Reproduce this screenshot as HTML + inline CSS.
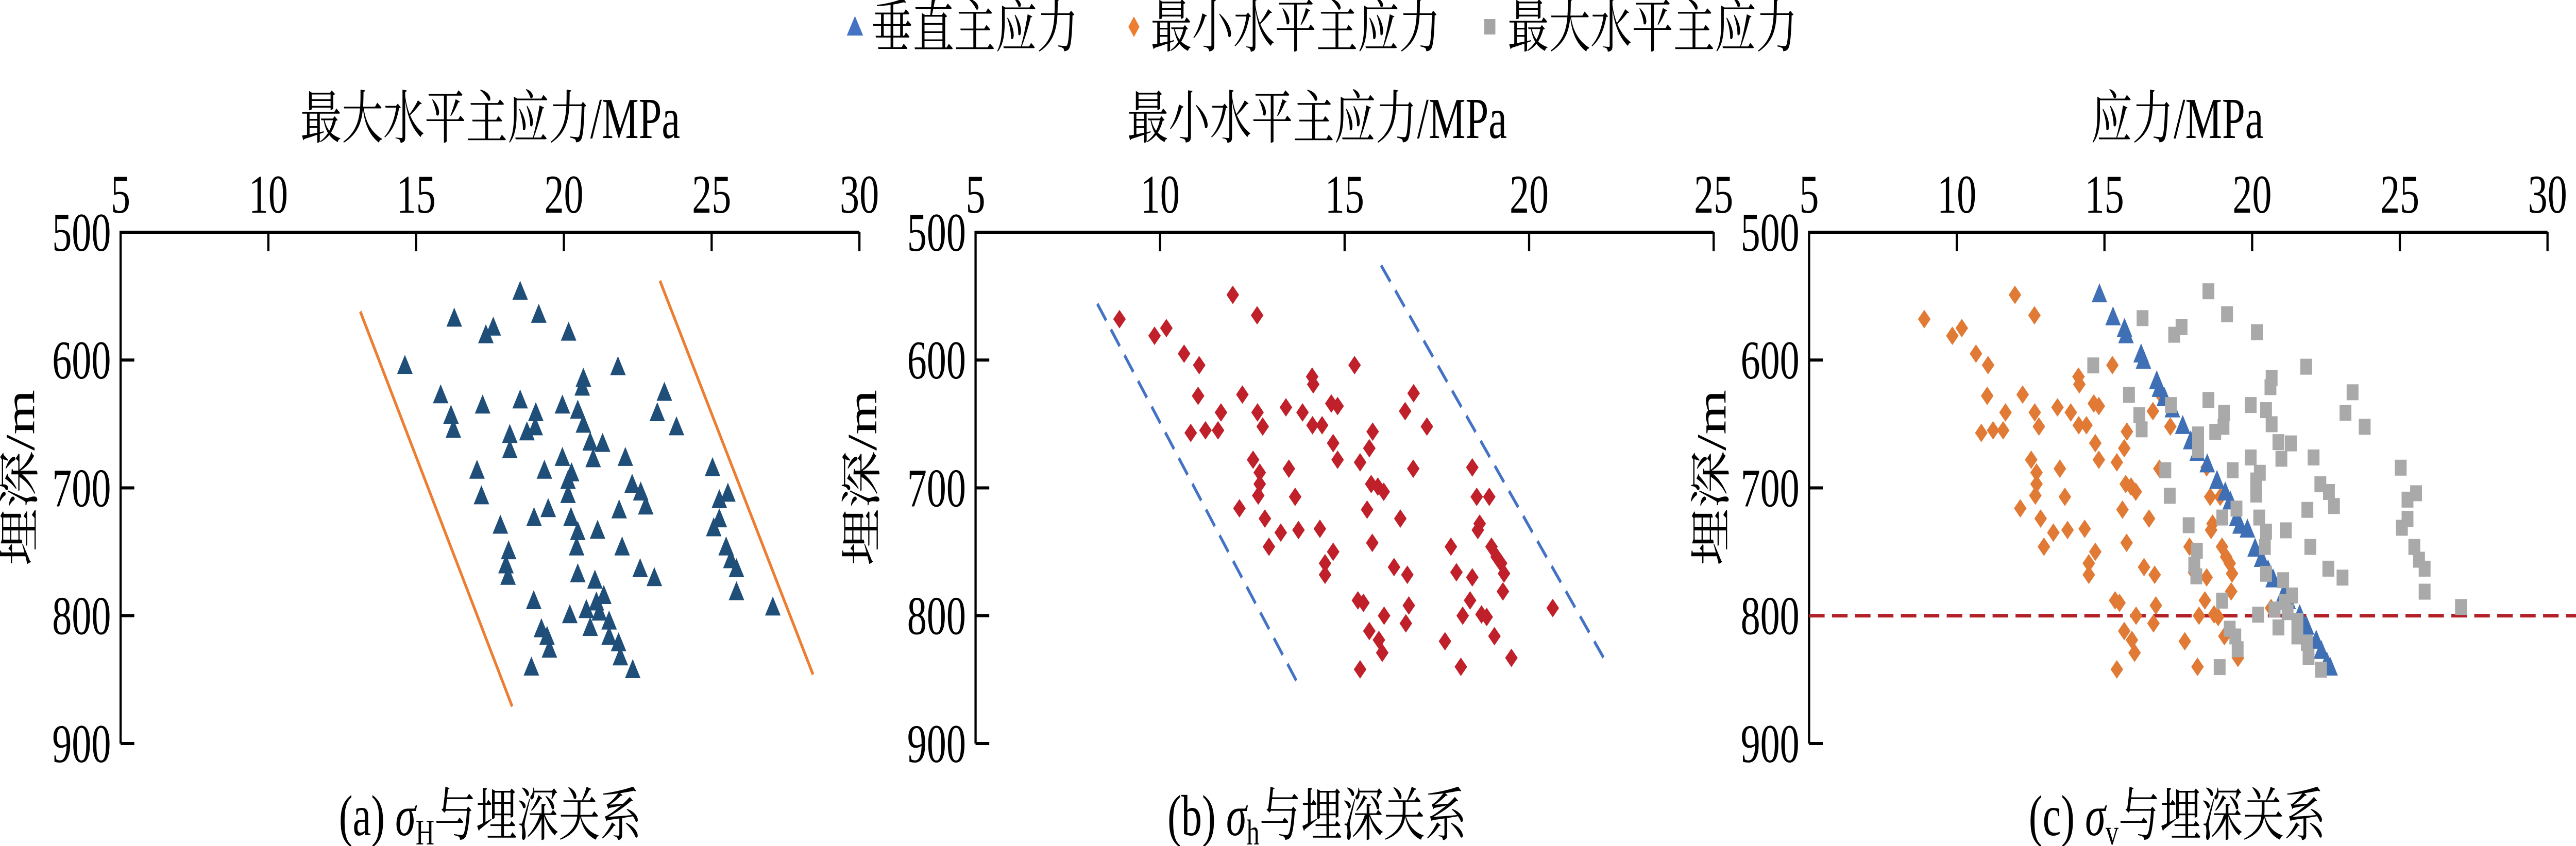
<!DOCTYPE html>
<html><head><meta charset="utf-8"><style>
html,body{margin:0;padding:0;background:#fff;overflow:hidden;width:100vw;height:100vh;}
svg{display:block;width:100vw;height:100vh;}
text{font-family:"Liberation Serif","Noto Serif CJK SC","Noto Sans CJK SC",serif;fill:#000;}
</style></head><body>
<svg id="chart" viewBox="0 0 6963 1643" preserveAspectRatio="none" xmlns="http://www.w3.org/2000/svg">
<g id="legend">
<g><polygon points="2289,69 2311,31 2333,69" fill="#4472c4"/><text x="2355" y="91" font-size="112" font-family="Liberation Serif, Noto Serif CJK SC, serif">垂直主应力</text></g>
<g><polygon points="3065,32 3080,52 3065,72 3050,52" fill="#ed7d31"/><text x="3110" y="91" font-size="112" font-family="Liberation Serif, Noto Serif CJK SC, serif">最小水平主应力</text></g>
<g><rect x="4012" y="37" width="30" height="30" fill="#a5a5a5"/><text x="4075" y="91" font-size="112" font-family="Liberation Serif, Noto Serif CJK SC, serif">最大水平主应力</text></g>
</g>
</svg>
<script>
const depthTicks=[500,600,700,800,900];
const xTicksA=[5,10,15,20,25,30];
const xTicksB=[5,10,15,20,25];
const xTicksC=[5,10,15,20,25,30];
// sigma_H (max horizontal) values and depths
const sHval=[18.52,19.15,16.29,17.61,17.36,20.16,14.62,21.83,20.66,20.62,15.83,23.40,18.52,17.25,19.95,19.05,23.16,16.18,20.47,20.66,23.81,19.03,16.26,18.75,18.17,20.89,21.31,18.17,20.99,22.08,19.95,17.06,19.34,20.26,25.03,20.14,22.31,20.14,17.21,25.26,25.55,22.60,22.77,21.87,19.47,18.99,20.24,25.26,17.85,20.47,21.14,25.07,21.97,20.43,18.13,25.49,25.65,25.84,18.04,18.11,20.47,22.58,23.06,21.05,25.84,27.07,18.98,21.35,21.10,21.20,20.76,20.20,21.53,19.24,20.89,19.43,21.53,21.85,19.51,21.91,18.90,22.33];
const sHdep=[546,564,567,574,580,578,604,605,614,621,627,625,631,635,635,641,641,643,639,650,652,652,654,656,658,664,665,670,677,676,676,686,686,688,684,694,697,705,706,709,704,703,714,717,716,723,723,724,729,734,733,731,746,746,749,746,756,763,760,769,767,763,770,772,781,793,788,784,789,797,795,799,804,810,809,816,816,821,826,832,840,842];
// sigma_h (min horizontal)
const shval=[8.90,9.85,10.17,10.65,11.06,11.97,12.63,15.27,10.83,11.03,11.23,11.57,11.65,12.23,12.64,12.78,13.41,13.86,14.12,14.15,14.13,14.39,14.64,14.81,14.69,14.81,15.42,15.67,15.76,16.87,16.64,17.23,12.52,12.70,12.70,12.66,13.49,13.66,12.15,12.84,13.27,13.75,12.95,14.33,14.69,14.47,14.47,15.72,15.90,16.06,15.61,15.75,16.51,16.86,18.46,18.58,18.92,18.66,18.61,17.88,18.98,19.12,19.24,19.32,16.34,16.70,18.03,18.46,19.29,20.64,15.36,15.51,16.07,16.74,16.66,18.20,18.71,18.85,18.40,15.67,15.93,16.02,17.72,19.06,18.15,19.52,15.42];
const shdep=[568,581,575,595,604,549,565,604,657,628,655,655,641,627,641,652,637,641,613,619,651,651,634,636,665,678,680,669,656,626,640,652,678,688,697,706,685,707,716,724,735,733,746,732,750,759,768,697,699,703,717,743,724,685,684,707,707,728,733,746,746,754,759,767,762,768,766,770,781,794,788,790,800,792,806,800,799,801,788,812,819,829,820,816,840,833,842];
// sigma_v (vertical)
const svval=[14.83,15.29,15.68,15.73,16.24,16.32,16.77,16.86,17.03,17.30,17.65,17.92,18.14,18.48,18.81,19.09,19.26,19.48,19.59,19.84,20.10,20.32,20.54,20.71,21.08,21.22,21.61,21.84,22.17,22.34,22.53,22.64];
const svdep=[548,566,575,580,595,600,616,622,629,638,651,663,672,681,694,703,710,723,729,732,747,755,764,771,782,788,799,808,819,827,836,840];
// envelope lines [x1,d1,x2,d2]
const envA1=[13.11,562,18.25,871], envA2=[23.25,538,28.43,846];
const envB1=[8.30,556,13.75,854], envB2=[15.99,526,22.04,834];
const refDepth=800;

const NS="http://www.w3.org/2000/svg";
const FF="Liberation Serif, Noto Serif CJK SC, serif";
const svg=document.getElementById('chart');
const Y0=451,Y1=1444;
function yS(d){return Y0+(d-500)/400*(Y1-Y0);}
function mk(tag,attrs,parent){const e=document.createElementNS(NS,tag);for(const k in attrs)e.setAttribute(k,attrs[k]);(parent||svg).appendChild(e);return e;}
function tri(g,cx,cy,col){return mk('polygon',{points:`${cx-21},${cy+17} ${cx},${cy-20} ${cx+21},${cy+17}`,fill:col},g);}
function dia(g,cx,cy,col){return mk('polygon',{points:`${cx},${cy-18} ${cx+17},${cy} ${cx},${cy+18} ${cx-17},${cy}`,fill:col},g);}
function sq(g,cx,cy,col){return mk('rect',{x:cx-16,y:cy-15,width:32,height:31,fill:col},g);}

function panel(name,x0,x1,xmin,xmax,xt,title,titleX,caption,sub,yTitleX){
  const g=mk('g',{});
  
  
  const xS=v=>x0+(v-xmin)/(xmax-xmin)*(x1-x0);
  const ax=mk('path',{d:`M${x0},${Y1} L${x0},${Y0} L${x1},${Y0}`,stroke:'#000','stroke-width':6,fill:'none'},g);
  
  
  xt.forEach((v,i)=>{
    if(i>0){const t=mk('line',{x1:xS(v),y1:Y0,x2:xS(v),y2:Y0+37,stroke:'#000','stroke-width':6},g);
    
    }
    const l=mk('text',{x:xS(v),y:413,'font-size':106,'text-anchor':'middle','font-family':FF},g);l.textContent=v;
    
    
  });
  depthTicks.forEach((d,i)=>{
    if(i>0){const t=mk('line',{x1:x0,y1:yS(d),x2:x0+37,y2:yS(d),stroke:'#000','stroke-width':6},g);
    
    }
    const l=mk('text',{x:x0-26,y:yS(d)+36,'font-size':106,'text-anchor':'end','font-family':FF},g);l.textContent=d;
    
    
  });
  const tt=mk('text',{x:titleX,y:268,'font-size':112,'text-anchor':'middle','font-family':FF},g);tt.textContent=title;
  
  
  const yt=mk('text',{x:0,y:0,'font-size':112,'text-anchor':'middle','font-family':FF,transform:`translate(${yTitleX+38},928) rotate(-90)`},g);yt.textContent='埋深/m';
  
  
  const cp=mk('text',{x:titleX,y:1622,'font-size':112,'text-anchor':'middle','font-family':FF},g);
  
  
  const a=document.createElementNS(NS,'tspan');a.textContent='('+caption+') ';cp.appendChild(a);
  const s=document.createElementNS(NS,'tspan');s.setAttribute('font-style','italic');s.textContent='σ';cp.appendChild(s);
  const b=document.createElementNS(NS,'tspan');b.setAttribute('font-size','70');b.setAttribute('dy','18');b.textContent=sub;cp.appendChild(b);
  const c=document.createElementNS(NS,'tspan');c.setAttribute('dy','-18');c.textContent='与埋深关系';cp.appendChild(c);
  return {g,xS};
}
function envLine(p,arr,col,dash,name){
  const l=mk('line',{x1:p.xS(arr[0]),y1:yS(arr[1]),x2:p.xS(arr[2]),y2:yS(arr[3]),stroke:col,'stroke-width':7},p.g);
  if(dash)l.setAttribute('stroke-dasharray',dash);
  
  
}
// Panel A
const pA=panel('panel-a-max-horizontal',326,2323,5,30,xTicksA,'最大水平主应力/MPa',1325,'a','H',54);
envLine(pA,envA1,'#ed7d31',null,'envelope-left');
envLine(pA,envA2,'#ed7d31',null,'envelope-right');
sHval.forEach((v,i)=>{const m=tri(pA.g,pA.xS(v),yS(sHdep[i]),'#1f4e79');
  
  });
// Panel B
const pB=panel('panel-b-min-horizontal',2637,4632,5,25,xTicksB,'最小水平主应力/MPa',3560,'b','h',2330);
envLine(pB,envB1,'#4472c4','40 22','envelope-left');
envLine(pB,envB2,'#4472c4','40 22','envelope-right');
shval.forEach((v,i)=>{const m=dia(pB.g,pB.xS(v),yS(shdep[i]),'#c0202a');
  
  });
// Panel C
const pC=panel('panel-c-all-stresses',4890,6886,5,30,xTicksC,'应力/MPa',5885,'c','v',4626);
const rl=mk('line',{x1:4890,y1:yS(refDepth),x2:6963,y2:yS(refDepth),stroke:'#b22028','stroke-width':7,'stroke-dasharray':'42 20'},pC.g);


shval.forEach((v,i)=>{const m=dia(pC.g,pC.xS(v),yS(shdep[i]),'#e07a35');
  
  });
svval.forEach((v,i)=>{const m=tri(pC.g,pC.xS(v),yS(svdep[i]),'#3f6fb5');
  
  });
sHval.forEach((v,i)=>{const m=sq(pC.g,pC.xS(v),yS(sHdep[i]),'#a9a9a9');
  
  });
</script>
</body></html>
